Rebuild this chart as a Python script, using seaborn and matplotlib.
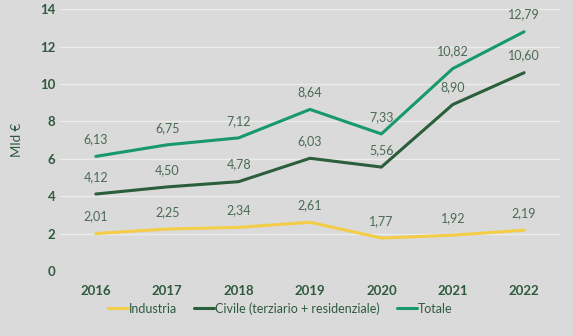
import matplotlib
matplotlib.use("Agg")
import matplotlib.pyplot as plt
import seaborn as sns
import pandas as pd

years = ["2016", "2017", "2018", "2019", "2020", "2021", "2022"]
industria = [2.01, 2.25, 2.34, 2.61, 1.77, 1.92, 2.19]
civile = [4.12, 4.50, 4.78, 6.03, 5.56, 8.90, 10.60]
totale = [6.13, 6.75, 7.12, 8.64, 7.33, 10.82, 12.79]
series_names = ["Industria", "Civile (terziario + residenziale)", "Totale"]
yticks = [0, 2, 4, 6, 8, 10, 12, 14]

bg = "#dadada"
txt = "#2e5a3e"
lbl = "#4a6a55"
colors = {"Industria": "#f3cd45", "Civile (terziario + residenziale)": "#2b5e3b", "Totale": "#17996b"}

sns.set_theme(style="white")
plt.rcParams["font.family"] = ["Lato", "DejaVu Sans"]

df = pd.DataFrame({
    "Anno": years * 3,
    "Valore": industria + civile + totale,
    "Serie": [series_names[0]] * 7 + [series_names[1]] * 7 + [series_names[2]] * 7,
})

fig = plt.figure(figsize=(5.73, 3.36), dpi=100, facecolor=bg)
ax = fig.add_axes([0.105, 0.193, 0.872, 0.78])
ax.set_facecolor(bg)

sns.lineplot(data=df, x="Anno", y="Valore", hue="Serie", palette=colors,
             linewidth=2.2, ax=ax, sort=False)

for vals in (industria, civile, totale):
    for i, v in enumerate(vals):
        ax.annotate(f"{v:.2f}".replace(".", ","), (i, v), xytext=(0, 8),
                    textcoords="offset points", ha="center", va="bottom",
                    fontsize=9, color=lbl)

ax.set_xlim(-0.5, 6.5)
ax.set_ylim(0, 14)
ax.set_yticks(yticks)
ax.yaxis.grid(True, color="#ececec", linewidth=1)
ax.set_axisbelow(True)
for s in ax.spines.values():
    s.set_visible(False)
ax.tick_params(axis="both", length=0, colors=txt, labelsize=9.5)
ax.tick_params(axis="x", pad=10)
for t in ax.get_xticklabels() + ax.get_yticklabels():
    t.set_fontweight("bold")
ax.set_xlabel("")
ax.set_ylabel("Mld €", color=txt, fontsize=9.5, labelpad=12)

leg = ax.legend(loc="upper center", bbox_to_anchor=(0.44, -0.075), ncol=3,
                frameon=False, fontsize=9, handlelength=1.6, handletextpad=0.05,
                columnspacing=1.4)
for t in leg.get_texts():
    t.set_color(txt)

fig.savefig("out.png", dpi=100, facecolor=bg)
